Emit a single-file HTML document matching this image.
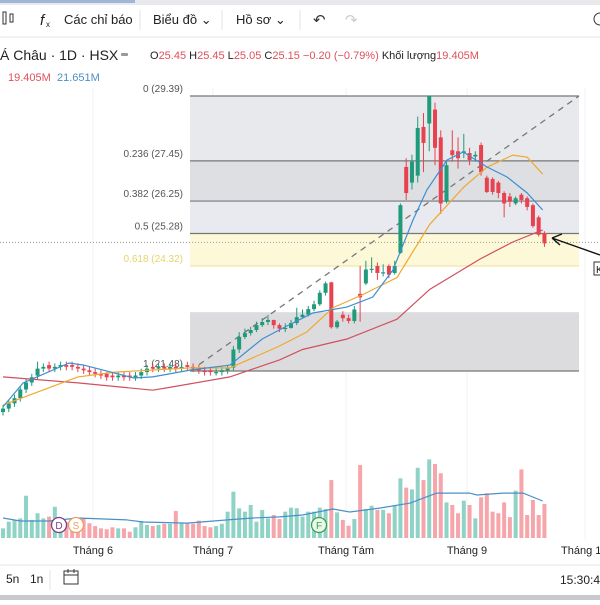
<!DOCTYPE html>
<html><head><meta charset="utf-8">
<style>
body{margin:0;background:#fff;width:600px;height:600px;overflow:hidden;font-family:"Liberation Sans","Noto Sans CJK SC",sans-serif;}
svg text{font-family:"Liberation Sans","Noto Sans CJK SC",sans-serif;}
</style></head>
<body>
<svg id="c" width="600" height="600" xmlns="http://www.w3.org/2000/svg">
  <rect x="0" y="0" width="600" height="600" fill="#fff"/>
  <rect x="0" y="0" width="600" height="5" fill="#e8e9ed"/>
  <rect x="0" y="0" width="135" height="3" fill="#9fb6d6"/>
  <g>
    <g><rect x="3" y="12" width="3" height="12" fill="none" stroke="#333"/><rect x="10" y="14" width="3" height="8" fill="none" stroke="#333"/></g>
    <text x="40" y="25" font-size="15" font-style="italic" fill="#222">f</text>
    <text x="46" y="27" font-size="8" fill="#222">x</text>
    <text x="64" y="24" font-size="13" fill="#222">Các chỉ báo</text>
    <line x1="140" y1="10" x2="140" y2="30" stroke="#e0e3eb"/>
    <text x="153" y="24" font-size="13" fill="#222">Biểu đồ ⌄</text>
    <line x1="222" y1="10" x2="222" y2="30" stroke="#e0e3eb"/>
    <text x="236" y="24" font-size="13" fill="#222">Hồ sơ ⌄</text>
    <line x1="300" y1="10" x2="300" y2="30" stroke="#e0e3eb"/>
    <text x="313" y="25" font-size="15" fill="#333">↶</text>
    <text x="345" y="25" font-size="15" fill="#ccc">↷</text>
    <circle cx="600" cy="19" r="6" fill="none" stroke="#333"/>
  </g>
  <line x1="0" y1="37" x2="600" y2="37" stroke="#e0e3eb"/>
  <g>
    <text x="0" y="60" font-size="14" fill="#222">Á Châu · 1D · HSX</text>
    <rect x="121" y="53" width="7" height="3" rx="1" fill="#999"/>
    <text x="150" y="59" font-size="11" fill="#222">O<tspan fill="#e0505a">25.45</tspan> H<tspan fill="#e0505a">25.45</tspan> L<tspan fill="#e0505a">25.05</tspan> C<tspan fill="#e0505a">25.15 −0.20 (−0.79%)</tspan> Khối lượng<tspan fill="#e0505a">19.405M</tspan></text>
    <text x="8" y="81" font-size="11" fill="#e0505a">19.405M</text>
    <text x="57" y="81" font-size="11" fill="#4a90c8">21.651M</text>
  </g>
  <g id="grid"></g>
  <g id="fib"></g>
  <g id="vol"></g>
  <g id="candles"></g>
  <g id="ma"></g>
  <g id="ann"></g>
  <g>
    <text x="93" y="554" font-size="11" fill="#222" text-anchor="middle">Tháng 6</text>
    <text x="213" y="554" font-size="11" fill="#222" text-anchor="middle">Tháng 7</text>
    <text x="346" y="554" font-size="11" fill="#222" text-anchor="middle">Tháng Tám</text>
    <text x="467" y="554" font-size="11" fill="#222" text-anchor="middle">Tháng 9</text>
    <text x="561" y="554" font-size="11" fill="#222">Tháng 1</text>
    <text x="-6" y="554" font-size="11" fill="#222">n</text>
  </g>
  <line x1="0" y1="565" x2="600" y2="565" stroke="#e0e3eb"/>
  <g>
    <text x="6" y="583" font-size="12" fill="#222">5n</text>
    <text x="30" y="583" font-size="12" fill="#222">1n</text>
    <line x1="50" y1="570" x2="50" y2="590" stroke="#e0e3eb"/>
    <g><rect x="64" y="571" width="14" height="13" fill="none" stroke="#333"/><line x1="64" y1="575" x2="78" y2="575" stroke="#333"/><line x1="68" y1="569" x2="68" y2="573" stroke="#333"/><line x1="74" y1="569" x2="74" y2="573" stroke="#333"/></g>
    <text x="560" y="584" font-size="12" fill="#222">15:30:4</text>
  </g>
  <rect x="0" y="595" width="600" height="5" fill="#c8c9cc"/>
</svg>
<script>
// ---- data ----
const fibLevels=[0,0.236,0.382,0.5,0.618,0.786,1];
const fibLabels=["0 (29.39)","0.236 (27.45)","0.382 (26.25)","0.5 (25.28)","0.618 (24.32)","","1 (21.48)"];
const fibHigh=29.39, fibLow=21.48;
const opens=[20.3,20.4,20.55,20.7,20.95,21.15,21.35,21.55,21.65,21.55,21.6,21.65,21.65,21.6,21.55,21.5,21.45,21.4,21.4,21.35,21.3,21.35,21.35,21.3,21.35,21.45,21.6,21.55,21.6,21.55,21.6,21.55,21.65,21.6,21.55,21.5,21.5,21.45,21.45,21.5,
21.58,22.1,22.46,22.57,22.66,22.8,22.89,22.95,22.8,22.7,22.72,22.86,23.03,23.1,23.26,23.4,23.73,24.03,22.74,23.1,23.0,22.92,23.7,24.0,24.4,24.5,24.3,24.5,24.3,24.88,27.35,26.9,27.1,28.5,28.6,29.0,28.2,26.35,27.83,27.8,27.75,27.75,27.65,27.98,27.04,27.0,26.9,26.6,26.5,26.3,26.55,26.45,26.25,25.9,25.45];
const closes=[20.4,20.55,20.7,20.95,21.15,21.3,21.55,21.6,21.55,21.6,21.65,21.6,21.6,21.55,21.5,21.45,21.4,21.35,21.3,21.3,21.35,21.3,21.3,21.35,21.45,21.55,21.55,21.6,21.55,21.6,21.55,21.6,21.6,21.55,21.5,21.45,21.45,21.45,21.5,21.55,
22.1,22.46,22.57,22.66,22.8,22.89,22.95,22.8,22.7,22.72,22.86,23.03,23.1,23.26,23.4,23.73,24.0,22.74,22.9,23.0,22.92,23.25,23.6,24.4,24.42,24.3,24.32,24.25,24.5,26.25,26.6,27.5,28.47,28.04,29.4,27.9,26.3,27.4,27.69,27.6,27.8,27.55,27.7,27.2,26.63,26.63,26.6,26.3,26.35,26.45,26.4,26.2,25.65,25.4,25.15];
const highs=[20.5,20.65,20.8,21.05,21.25,21.4,21.75,21.7,21.75,21.7,21.75,21.75,21.75,21.7,21.65,21.6,21.55,21.5,21.45,21.45,21.45,21.45,21.45,21.45,21.55,21.65,21.7,21.7,21.7,21.7,21.7,21.7,21.75,21.7,21.65,21.6,21.6,21.55,21.6,21.65,
22.2,22.6,22.7,22.75,22.9,23.0,23.1,22.95,22.85,22.85,22.95,23.3,23.25,23.35,23.5,23.8,24.05,24.05,22.95,23.2,23.1,23.35,24.5,24.65,24.75,24.6,24.55,24.55,24.65,26.3,27.6,27.7,28.8,28.9,29.39,29.2,28.4,27.5,28.4,28.2,28.3,27.9,27.8,28.05,27.1,27.05,26.95,26.65,26.6,26.5,26.6,26.5,26.3,25.95,25.5];
const lows=[20.2,20.3,20.45,20.6,20.85,21.05,21.25,21.45,21.45,21.45,21.5,21.5,21.5,21.45,21.4,21.35,21.3,21.25,21.2,21.2,21.2,21.2,21.2,21.2,21.25,21.35,21.45,21.45,21.45,21.45,21.45,21.45,21.5,21.45,21.4,21.35,21.35,21.35,21.35,21.4,
21.5,22.0,22.4,22.5,22.6,22.75,22.8,22.7,22.6,22.6,22.7,22.8,23.0,23.05,23.2,23.35,23.65,22.7,22.7,22.9,22.85,22.85,22.9,23.95,24.3,24.1,24.2,24.15,24.25,24.85,26.4,26.7,26.9,27.2,27.8,27.4,26.0,26.3,27.5,27.3,27.6,27.4,27.5,27.1,26.6,26.55,26.45,25.9,26.2,26.25,26.3,26.1,25.6,25.35,25.05];
const volumes=[5.5,9.3,10.3,11.2,24.1,10.3,14.1,11.2,12.2,17.8,9,9,9,9.3,11.2,8.4,6.8,5.5,5,6.1,5.5,5.5,3.6,6.1,9.7,7.4,6.8,7.4,8.1,8.1,15.4,8.4,8.4,8.1,9.9,6.8,6.1,6.8,8.1,15,26.4,16.9,15,18.8,9.3,16,11.2,13.1,
10.8,15,17.3,17,12.2,15,15,17.3,16.5,33,14.6,10.3,7,10.8,41.6,16.5,18.4,16,16,14.1,18.8,34,28.7,27.7,40,33,44.8,42.2,36.9,20.3,18.8,14.1,21.3,18.8,11.2,23.2,25.5,15,14.1,20.3,11.9,27,39.1,13.1,21.7,13.1,19.4];
const ma10Idx=[0,3.5,11.5,14,22.7,26,32.6,39.4,45,49,53.8,59.7,64.2,67.7,71.2,73.6,77.1,79.9,84,87.5,91,93.7];
const ma10Val=[20.45,21.14,21.71,21.65,21.28,21.31,21.51,21.65,22.4,22.75,23.15,23.32,23.61,24.39,25.83,26.69,27.55,27.78,27.35,27.06,26.6,26.11];
const ma20Idx=[0,13,19.5,32.6,39.4,48,52.7,57.3,62.5,68.4,74.1,80,84,88.5,91,93.7];
const ma20Val=[20.5,21.31,21.45,21.57,21.57,22.2,22.6,23.3,23.68,24.17,25.7,26.77,27.34,27.69,27.63,27.14];
const ma50Idx=[0,13,26,29.3,39.4,48,52,59.7,68.4,74.1,82.8,88.5,93.7];
const ma50Val=[21.31,21.14,20.93,21.02,21.31,21.8,22.1,22.4,22.97,23.83,24.7,25.19,25.54];
const volMaIdx=[0,3,8,13,21.5,24.3,32,39,43.4,48,52,57.3,60.2,65.5,70.7,75.3,81,82.3,86.8,90.3,93.7];
const volMaVal=[11.4,9.7,9.7,11.4,10.3,9.1,8.5,10.3,11.4,12,13.1,16.5,14.8,17.1,19.9,25.6,25.6,24.5,25.6,25.6,21.1];
// ---- scales ----
function xS(i){return 3+i*5.76;}
function yP(p){return 96+(29.39-p)*34.77;}
function yV(v){return 538-v*1.755;}
const NS="http://www.w3.org/2000/svg";
function mk(tag,attrs,parent){const e=document.createElementNS(NS,tag);for(const k in attrs)e.setAttribute(k,attrs[k]);parent.appendChild(e);return e;}
// grid
const grid=document.getElementById('grid');
[93,213,346,467,585].forEach(gx=>{mk('line',{x1:gx,y1:88,x2:gx,y2:540,stroke:'#f2f3f5'},grid);});
// fib
const fib=document.getElementById('fib');
const fibFills=['#e8e9ec','#dedfe3','#e9e9f0','#fdf8d8','#ffffff','#dcdcdf'];
for(let k=0;k<fibLevels.length-1;k++){
  const p1=fibHigh-(fibHigh-fibLow)*fibLevels[k], p2=fibHigh-(fibHigh-fibLow)*fibLevels[k+1];
  const r=mk('rect',{x:190,y:yP(p1),width:389,height:yP(p2)-yP(p1),fill:fibFills[k]},fib);
  
  
}
fibLevels.forEach((lv,k)=>{
  const p=fibHigh-(fibHigh-fibLow)*lv; const y=yP(p);
  if(fibLabels[k]!==''){
    const l=mk('line',{x1:190,y1:y,x2:579,y2:y,stroke:lv===0.618?'#f0e6a8':'#777','stroke-width':1.2},fib);
    
    
    const t=mk('text',{x:183,y:y-4,'font-size':10,fill:lv===0.618?'#e8d36a':'#555','text-anchor':'end'},fib);
    t.textContent=fibLabels[k];
    
    
  }
});
const tl=mk('line',{x1:190,y1:yP(fibLow),x2:579,y2:yP(fibHigh),stroke:'#777','stroke-width':1.3,'stroke-dasharray':'6,5'},fib);


// volume
const vol=document.getElementById('vol');
volumes.forEach((v,i)=>{
  const up=closes[i]>=opens[i];
  const r=mk('rect',{x:xS(i)-2,y:yV(v),width:4,height:538-yV(v),fill:up?'#8fd3c6':'#f6a5aa'},vol);
  
  
});
function line(idx,val,fx,fy,color,name,parent){
  const pts=idx.map((ii,k)=>fx(ii).toFixed(1)+','+fy(val[k]).toFixed(1)).join(' ');
  const pl=mk('polyline',{points:pts,fill:'none',stroke:color,'stroke-width':1.2},parent);
  
  
}
line(volMaIdx,volMaVal,xS,yV,'#4a90c8','volume-ma-line',vol);
// candles
const cg=document.getElementById('candles');
opens.forEach((o,i)=>{
  const c=closes[i], up=c>=o, col=up?'#1f9a7a':'#e8414f', x=xS(i);
  const w=mk('line',{x1:x,y1:yP(highs[i]),x2:x,y2:yP(lows[i]),stroke:col,'stroke-width':1},cg);
  
  
  const top=yP(Math.max(o,c)), bot=yP(Math.min(o,c));
  const b=mk('rect',{x:x-2,y:top,width:4,height:Math.max(1.2,bot-top),fill:col},cg);
  
  
});
// MAs
const ma=document.getElementById('ma');
line(ma50Idx,ma50Val,xS,yP,'#d0505e','ma50-line',ma);
line(ma20Idx,ma20Val,xS,yP,'#f0a830','ma20-line',ma);
line(ma10Idx,ma10Val,xS,yP,'#3d8fd0','ma10-line',ma);
// annotations
const ann=document.getElementById('ann');
const pl=mk('line',{x1:0,y1:yP(25.15)-1,x2:600,y2:yP(25.15)-1,stroke:'#999','stroke-dasharray':'1,2'},ann);


const ar=mk('path',{d:'M600 255 L552 238 M552 238 L562 234 M552 238 L560 245',stroke:'#111','stroke-width':1.4,fill:'none'},ann);


const kb=mk('rect',{x:594,y:262,width:10,height:13,fill:'#fff',stroke:'#333'},ann);


const kt=mk('text',{x:596,y:273,'font-size':10,fill:'#111'},ann);
kt.textContent='K';
[['D',59,'#7b3f8c'],['S',76,'#e8a060'],['F',319,'#3aa24a']].forEach(m=>{
  const g=mk('g',{},ann);
  
  
  mk('circle',{cx:m[1],cy:525,r:7.5,fill:m[0]==='F'?'#eaf7ea':'#fff',stroke:m[2],'stroke-width':1.3},g);
  const t=mk('text',{x:m[1],y:529,'font-size':10,fill:m[2],'text-anchor':'middle'},g);
  t.textContent=m[0];
});
</script>
</body></html>
